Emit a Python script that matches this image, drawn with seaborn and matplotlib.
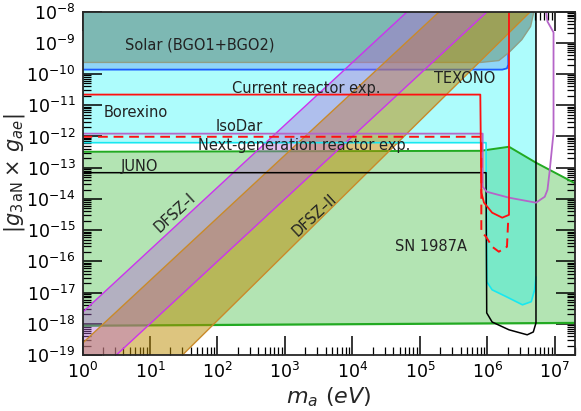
import numpy as np
import matplotlib
matplotlib.use("Agg")
import matplotlib.pyplot as plt
import seaborn as sns
from matplotlib.ticker import LogLocator, NullFormatter

# every value below is log10(m_a / eV) or log10(|g_3aN x g_ae|)
solar_logm = [0.0, 5.90, 6.17, 6.32, 6.51, 6.64, 6.69]
solar_logg = [-9.63, -9.63, -9.57, -9.31, -8.90, -8.48, -8.00]

texono_logm = [0.0, 6.22, 6.29, 6.31, 6.31]
texono_logg = [-9.86, -9.86, -9.82, -9.70, -8.00]

borexino_logm = [0.0, 5.98, 5.99, 6.07, 6.28, 6.52, 6.65, 6.70, 6.72, 6.72]
borexino_logg = [-12.20, -12.20, -16.65, -16.91, -17.13, -17.39, -17.29, -16.91, -16.50, -8.00]

juno_logm = [0.0, 5.98, 5.99, 6.07, 6.32, 6.59, 6.68, 6.72, 6.72]
juno_logg = [-13.16, -13.16, -17.65, -17.94, -18.19, -18.35, -18.26, -17.97, -8.00]

sn_top_logm = [0.0, 5.90, 6.32, 6.72, 7.30]
sn_top_logg = [-12.49, -12.46, -12.33, -12.84, -13.50]
sn_bot_logm = [0.0, 7.30]
sn_bot_logg = [-18.06, -17.97]

current_logm = [0.0, 5.895, 5.91, 5.95, 6.07, 6.22, 6.32, 6.32]
current_logg = [-10.66, -10.66, -13.80, -14.12, -14.44, -14.60, -14.51, -8.00]

isodar_logm = [0.0, 5.91, 5.91, 5.98, 6.07, 6.17, 6.29, 6.31]
isodar_logg = [-12.01, -12.01, -15.05, -15.21, -15.53, -15.69, -15.53, -14.60]

nextgen_logm = [0.0, 5.93, 5.93, 5.99, 6.32, 6.72, 6.85, 6.89, 6.92, 6.98, 6.98, 6.89, 6.87]
nextgen_logg = [-11.91, -11.91, -13.61, -13.77, -13.96, -14.12, -13.93, -13.71, -13.16,
                -11.88, -8.67, -8.32, -8.00]

# DFSZ bands: upper and lower edge, each from a start point to an end point
dfsz1_up_logm = [0.0, 4.815]
dfsz1_up_logg = [-17.63, -8.0]
dfsz1_lo_logm = [0.50, 6.00]
dfsz1_lo_logg = [-19.0, -8.0]
dfsz2_up_logm = [0.0, 5.29]
dfsz2_up_logg = [-18.62, -8.0]
dfsz2_lo_logm = [1.48, 6.64]
dfsz2_lo_logg = [-19.0, -8.0]

# labels: text, log10 m, log10 g, rotation
labels = [
    ("Solar (BGO1+BGO2)", 1.74, -9.06, 0),
    ("Current reactor exp.", 3.31, -10.47, 0),
    ("TEXONO", 5.67, -10.15, 0),
    ("Borexino", 0.79, -11.24, 0),
    ("IsoDar", 2.32, -11.69, 0),
    ("Next-generation reactor exp.", 3.29, -12.29, 0),
    ("JUNO", 0.85, -12.97, 0),
    ("SN 1987A", 5.17, -15.53, 0),
    ("DFSZ–I", 1.37, -14.44, 42.7),
    ("DFSZ–II", 3.44, -14.51, 42.7),
]

x_ticks = [1e0, 1e1, 1e2, 1e3, 1e4, 1e5, 1e6, 1e7]
y_ticks = [1e-19, 1e-18, 1e-17, 1e-16, 1e-15, 1e-14, 1e-13, 1e-12,
           1e-11, 1e-10, 1e-9, 1e-8]

XMIN, XMAX = 1.0, 2e7
YMIN, YMAX = 1e-19, 1e-8


def p10(a):
    return np.power(10.0, np.asarray(a, dtype=float))


def band(up_m, up_g, lo_m, lo_g):
    m = list(up_m) + list(lo_m[::-1]) + [0.0]
    g = list(up_g) + list(lo_g[::-1]) + [-19.0]
    return p10(m), p10(g)


def edge(ax, m, g, color, lw=1.2, ls="-", z=6, alpha=1.0):
    sns.lineplot(x=p10(m), y=p10(g), sort=False, estimator=None, color=color,
                 lw=lw, linestyle=ls, zorder=z, alpha=alpha, ax=ax)


sns.set_style("ticks")
plt.rcParams["font.family"] = ["DejaVu Sans"]
plt.rcParams["mathtext.fontset"] = "dejavusans"

fig = plt.figure(figsize=(5.81, 4.11), dpi=100)
ax = fig.add_axes([0.142, 0.136, 0.848, 0.836])
ax.set_xscale("log")
ax.set_yscale("log")

# SN 1987A
sn_m = p10(sn_top_logm + sn_bot_logm[::-1])
sn_g = p10(sn_top_logg + sn_bot_logg[::-1])
ax.fill(sn_m, sn_g, color="#b3e4b3", lw=0, zorder=1)
edge(ax, sn_top_logm, sn_top_logg, "#22aa22", lw=1.4, z=3)
edge(ax, sn_bot_logm, sn_bot_logg, "#22aa22", lw=1.6, z=3)

# Borexino
bx_m = p10(borexino_logm + [0.0])
bx_g = p10(borexino_logg + [-8.0])
ax.fill(bx_m, bx_g, color="#00f6f6", alpha=0.32, lw=0, zorder=2)

# TEXONO
tx_m = p10(texono_logm + [0.0])
tx_g = p10(texono_logg + [-8.0])
ax.fill(tx_m, tx_g, color="#8fd5f7", lw=0, zorder=3)
edge(ax, texono_logm, texono_logg, "#1a5cff", lw=1.3, z=3.5)

# Solar
so_m = p10(solar_logm + [0.0])
so_g = p10(solar_logg + [-8.0])
ax.fill(so_m, so_g, color="#7db8b3", lw=0, zorder=4)
edge(ax, solar_logm, solar_logg, "#8f9f86", lw=1.0, z=4)

# DFSZ bands
m2, g2 = band(dfsz2_up_logm, dfsz2_up_logg, dfsz2_lo_logm, dfsz2_lo_logg)
ax.fill(m2, g2, color="#bc8c00", alpha=0.5, lw=0, zorder=5)
m1, g1 = band(dfsz1_up_logm, dfsz1_up_logg, dfsz1_lo_logm, dfsz1_lo_logg)
ax.fill(m1, g1, color="#b464d7", alpha=0.4, lw=0, zorder=5)
edge(ax, dfsz2_up_logm, dfsz2_up_logg, "#c98a2a", lw=1.0, z=5)
edge(ax, dfsz2_lo_logm, dfsz2_lo_logg, "#c98a2a", lw=1.0, z=5)
edge(ax, dfsz1_up_logm, dfsz1_up_logg, "#cc33ee", lw=1.0, z=5)
edge(ax, dfsz1_lo_logm, dfsz1_lo_logg, "#cc33ee", lw=1.0, z=5)

# contours
edge(ax, borexino_logm[:-1], borexino_logg[:-1], "#18e8f0", lw=1.2, z=6)
edge(ax, juno_logm, juno_logg, "black", lw=1.1, z=6)
edge(ax, nextgen_logm, nextgen_logg, "#b565c8", lw=1.3, z=6)
edge(ax, current_logm, current_logg, "#ff1010", lw=1.3, z=6.5)
edge(ax, isodar_logm, isodar_logg, "#ff1010", lw=1.4, ls=(0, (5, 3)), z=6.5)

for text, lm, lg, rot in labels:
    ax.text(10 ** lm, 10 ** lg, text, ha="center", va="center", rotation=rot,
            rotation_mode="anchor", fontsize=10.5, color="#222222", zorder=8)

ax.set_xticks(x_ticks)
ax.set_yticks(y_ticks)
ax.xaxis.set_minor_locator(LogLocator(base=10, subs=np.arange(2, 10), numticks=100))
ax.yaxis.set_minor_locator(LogLocator(base=10, subs=np.arange(2, 10), numticks=100))
ax.xaxis.set_minor_formatter(NullFormatter())
ax.yaxis.set_minor_formatter(NullFormatter())
ax.set_xlim(XMIN, XMAX)
ax.set_ylim(YMIN, YMAX)
ax.tick_params(which="both", direction="in", top=True, right=True, colors="black")
ax.tick_params(which="major", length=14, width=1.1, labelsize=12.5, pad=5)
ax.tick_params(which="minor", length=6, width=0.9)
for sp in ax.spines.values():
    sp.set_linewidth(1.3)
    sp.set_zorder(10)
ax.set_axisbelow(False)

ax.set_xlabel(r"$m_a\ (eV)$", fontsize=16)
ax.set_ylabel(r"$|g_{3\,\mathrm{aN}}\times\,g_{ae}|$", fontsize=15)
ax.xaxis.set_label_coords(0.5, -0.088)
ax.yaxis.set_label_coords(-0.112, 0.53)

fig.savefig("out.png", dpi=100)
